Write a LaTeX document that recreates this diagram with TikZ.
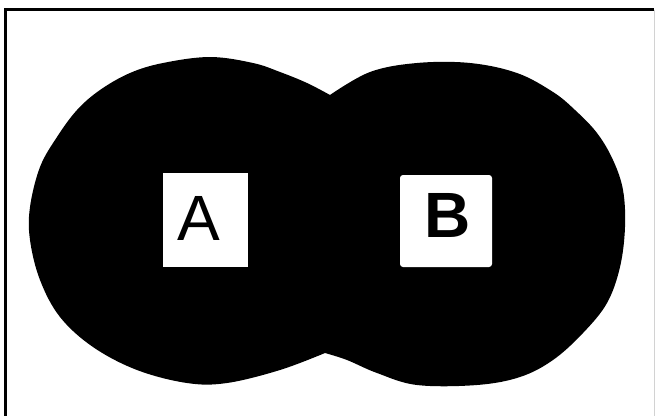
\documentclass[tikz,border=0pt]{standalone}
\usepackage{fontspec}
\setmainfont{Liberation Sans}
\begin{document}
\begin{tikzpicture}[x=1pt,y=-1pt,
  labelbox/.style={fill=white,inner sep=0pt,text depth=0pt,text height=47pt,
    font=\fontsize{64}{64}\selectfont}]
\useasboundingbox (0,0) rectangle (655,415);
\fill[white] (0,0) rectangle (655,415);
% frame
\draw[line width=3pt] (5,420) -- (5,9.5) -- (654,9.5);
\draw[gray!35,line width=1pt] (654.5,9.5) -- (654.5,420);
% the two overlapping discs
\fill[black] plot[smooth,tension=0.6] coordinates {(330,95) (307,83) (280,72) (253,63) (210,57) (163,63) (130,73) (100,90) (77,110) (57,137) (40,167) (30,207) (30,240) (40,280) (60,317) (93,347) (137,370) (187,383) (227,383) (280,370) (325,353)}
  -- plot[smooth,tension=0.6] coordinates {(325,353) (347,360) (377,373) (417,385) (477,385) (520,377) (553,360) (583,333) (607,303) (620,267) (625,227) (623,190) (613,160) (597,133) (575,110) (553,92) (517,73) (470,63) (417,63) (370,72) (330,95)}
  -- cycle;
% labelled boxes
\node[labelbox,minimum width=85pt,minimum height=94pt] (A) at (205.5,220) {\raisebox{3pt}{\hspace*{-14pt}A}};
\node[labelbox,minimum width=92pt,minimum height=92pt,rounded corners=3pt,font=\fontsize{64}{64}\selectfont\bfseries] (B) at (446,221) {\raisebox{7pt}{\hspace*{4pt}B}};
\end{tikzpicture}
\end{document}
